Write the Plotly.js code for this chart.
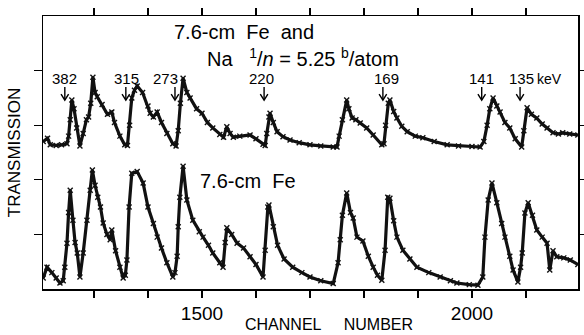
<!DOCTYPE html>
<html>
<head>
<meta charset="utf-8">
<script src="https://cdn.plot.ly/plotly-3.0.1.min.js"></script>
<style>html,body{margin:0;padding:0;background:#fff;}#chart{width:584px;height:335px;}</style>
</head>
<body>
<div id="chart"></div>
<script>
// Upper trace: 7.6-cm Fe and Na filter
const chanUpper = [1206,1214,1219,1230,1240,1250,1253,1256,1259,1263,1268,1274,1280,1286,1290,1294,1298,1302,1306,1315,1325,1333,1338,1348,1357,1362,1366,1370,1375,1380,1390,1400,1404,1410,1417,1425,1435,1446,1452,1456,1460,1465,1472,1478,1490,1500,1510,1520,1533,1540,1546,1552,1558,1570,1589,1600,1613,1617,1620,1624,1626,1632,1639,1650,1663,1680,1700,1720,1743,1750,1754,1760,1768,1772,1778,1785,1793,1805,1817,1833,1837,1840,1845,1848,1855,1861,1870,1880,1895,1909,1930,1954,1975,2000,2015,2022,2028,2033,2039,2046,2052,2061,2070,2080,2092,2096,2102,2110,2120,2130,2139,2150,2160,2168,2181,2196];
const transUpper = [2.70,2.76,2.64,2.63,2.64,2.66,2.80,3.10,3.46,3.30,2.95,2.62,2.85,3.10,3.15,3.40,3.88,3.60,3.52,3.38,3.20,3.24,3.05,2.80,2.64,2.63,3.00,3.50,3.64,3.72,3.60,3.35,3.22,3.15,3.24,3.05,2.85,2.66,2.62,2.90,3.40,3.86,3.60,3.50,3.30,3.22,3.05,2.95,2.83,2.78,2.97,2.85,2.78,2.80,2.82,2.75,2.65,2.63,2.85,3.15,3.22,3.05,2.88,2.79,2.73,2.68,2.64,2.62,2.60,2.60,2.80,3.10,3.46,3.30,3.13,3.10,3.04,2.95,2.82,2.64,2.66,3.00,3.40,3.46,3.25,3.13,2.98,2.88,2.80,2.77,2.70,2.64,2.62,2.61,2.60,2.70,3.00,3.30,3.50,3.35,3.24,3.05,2.95,2.75,2.60,2.90,3.32,3.20,3.13,3.02,2.95,2.86,2.84,2.86,2.84,2.82];

// Lower trace: 7.6-cm Fe filter only
const chanLower = [1206,1213,1222,1230,1237,1243,1246,1250,1253,1256,1261,1265,1269,1274,1280,1287,1293,1297,1302,1307,1312,1317,1324,1330,1333,1340,1348,1354,1358,1361,1365,1370,1380,1391,1400,1410,1417,1425,1435,1446,1450,1454,1456,1459,1465,1472,1483,1495,1502,1512,1520,1533,1539,1543,1546,1555,1565,1577,1589,1600,1613,1617,1622,1624,1632,1640,1652,1668,1685,1700,1720,1743,1752,1756,1760,1768,1775,1780,1787,1798,1808,1817,1825,1833,1839,1844,1848,1855,1861,1872,1885,1898,1920,1941,1960,1972,1995,2011,2020,2024,2030,2037,2046,2055,2061,2070,2076,2085,2090,2093,2098,2104,2112,2120,2130,2139,2144,2150,2157,2170,2182,2196];
const transLower = [0.20,0.40,0.30,0.20,0.11,0.15,0.40,0.84,1.40,1.81,1.26,0.85,0.66,0.22,0.66,1.26,1.81,2.18,1.90,1.68,1.50,1.21,1.00,0.90,1.08,0.70,0.40,0.20,0.25,0.53,1.50,2.12,2.15,1.94,1.50,1.20,0.95,0.75,0.48,0.22,0.30,0.60,1.14,1.68,2.25,1.63,1.26,1.05,0.95,0.80,0.66,0.48,0.40,0.85,1.12,1.00,0.84,0.75,0.59,0.45,0.22,0.71,1.50,1.54,1.14,0.80,0.55,0.40,0.30,0.22,0.15,0.10,0.48,0.90,1.35,1.76,1.40,1.30,0.95,0.88,0.60,0.40,0.25,0.16,0.71,1.68,1.66,1.25,0.95,0.71,0.55,0.40,0.30,0.22,0.15,0.11,0.08,0.07,0.22,0.95,1.63,1.94,1.58,1.20,0.95,0.60,0.35,0.13,0.40,0.66,1.39,1.58,1.35,1.08,0.95,0.84,0.35,0.70,0.59,0.57,0.53,0.45];

// Resonance energy markers (keV)
const energyLabels = ["382","315","273","220","169","141","135"];
const arrowChannels = [1246,1359,1450,1615,1835,2018,2089];
const labelChannels = [1246,1361,1433,1611,1841,2017,2091];

const labelTickVals = [1500, 2000];
const labelTickText = ["1500", "2000"];
const minorTickVals = [1300,1400,1500,1600,1700,1800,1900,2000,2100];
const yTickVals = [1, 2, 3, 4];

const traceStyle = {
  mode: 'lines+markers',
  line: {color: '#111', width: 3.2},
  marker: {symbol: 'x-thin', size: 5, color: '#111', line: {width: 1.4, color: '#111'}},
  showlegend: false,
  hoverinfo: 'skip'
};

const data = [
  Object.assign({x: chanUpper, y: transUpper, type: 'scatter'}, traceStyle),
  Object.assign({x: chanLower, y: transLower, type: 'scatter'}, traceStyle)
];

const font = 'Liberation Sans, Arial, sans-serif';
const annotations = [];
const shapes = [];
const arrowTop = 3.70, arrowTip = 3.46, headBase = 3.57, headHalf = 7;
energyLabels.forEach((t, i) => {
  annotations.push({x: labelChannels[i], y: 3.85, xref: 'x', yref: 'y', text: t, showarrow: false,
    font: {family: font, size: 15, color: '#000'}, xanchor: 'center', yanchor: 'middle'});
  const c = arrowChannels[i];
  shapes.push({type: 'line', xref: 'x', yref: 'y', x0: c, x1: c, y0: arrowTop, y1: arrowTip,
    line: {color: '#000', width: 1.4}});
  shapes.push({type: 'path', xref: 'x', yref: 'y',
    path: 'M' + (c - headHalf) + ',' + headBase + ' L' + c + ',' + arrowTip + ' L' + (c + headHalf) + ',' + headBase,
    line: {color: '#000', width: 1.4}});
});
annotations.push({x: 2144, y: 3.85, xref: 'x', yref: 'y', text: 'keV', showarrow: false,
  font: {family: font, size: 14, color: '#000'}, xanchor: 'center', yanchor: 'middle'});
annotations.push({x: 0.241, y: 0.940, xref: 'paper', yref: 'paper', text: '7.6-cm&nbsp; Fe&nbsp; and', showarrow: false,
  font: {family: font, size: 20, color: '#000'}, xanchor: 'left', yanchor: 'middle'});
annotations.push({x: 0.303, y: 0.848, xref: 'paper', yref: 'paper', text: 'Na&nbsp;&nbsp; <sup>1</sup>/<i>n</i> = 5.25 <sup>b</sup>/atom', showarrow: false,
  font: {family: font, size: 20, color: '#000'}, xanchor: 'left', yanchor: 'middle'});
annotations.push({x: 0.290, y: 0.396, xref: 'paper', yref: 'paper', text: '7.6-cm&nbsp; Fe', showarrow: false,
  font: {family: font, size: 20, color: '#000'}, xanchor: 'left', yanchor: 'middle'});
annotations.push({x: 0.535, y: -0.130, xref: 'paper', yref: 'paper', text: 'CHANNEL&nbsp;&nbsp;&nbsp;&nbsp; NUMBER', showarrow: false,
  font: {family: font, size: 16, color: '#000'}, xanchor: 'center', yanchor: 'middle'});

const layout = {
  width: 584, height: 335,
  margin: {l: 43, r: 6, t: 16, b: 46},
  paper_bgcolor: '#fff', plot_bgcolor: '#fff',
  xaxis: {
    range: [1205.6, 2196.3], tickvals: labelTickVals, ticktext: labelTickText,
    ticks: 'outside', ticklen: 7, tickwidth: 1.3, tickcolor: '#000',
    minor: {tickvals: minorTickVals, ticks: 'outside', ticklen: 7, tickwidth: 1.3, tickcolor: '#000', showgrid: false},
    showline: true, linecolor: '#000', linewidth: 1.5, mirror: 'ticks',
    showgrid: false, zeroline: false,
    tickfont: {family: font, size: 19, color: '#000'}
  },
  yaxis: {
    range: [0, 5], tickvals: [], showticklabels: false,
    ticks: 'outside', ticklen: 8, tickwidth: 1.3, tickcolor: '#000',
    minor: {tickvals: yTickVals, ticks: 'outside', ticklen: 8, tickwidth: 1.3, tickcolor: '#000', showgrid: false},
    showline: true, linecolor: '#000', linewidth: 1.5, mirror: 'ticks',
    showgrid: false, zeroline: false,
    title: {text: 'TRANSMISSION', font: {family: font, size: 17, color: '#000'}, standoff: 8}
  },
  annotations: annotations,
  shapes: shapes
};

Plotly.newPlot('chart', data, layout, {displayModeBar: false, staticPlot: true});
</script>
</body>
</html>
